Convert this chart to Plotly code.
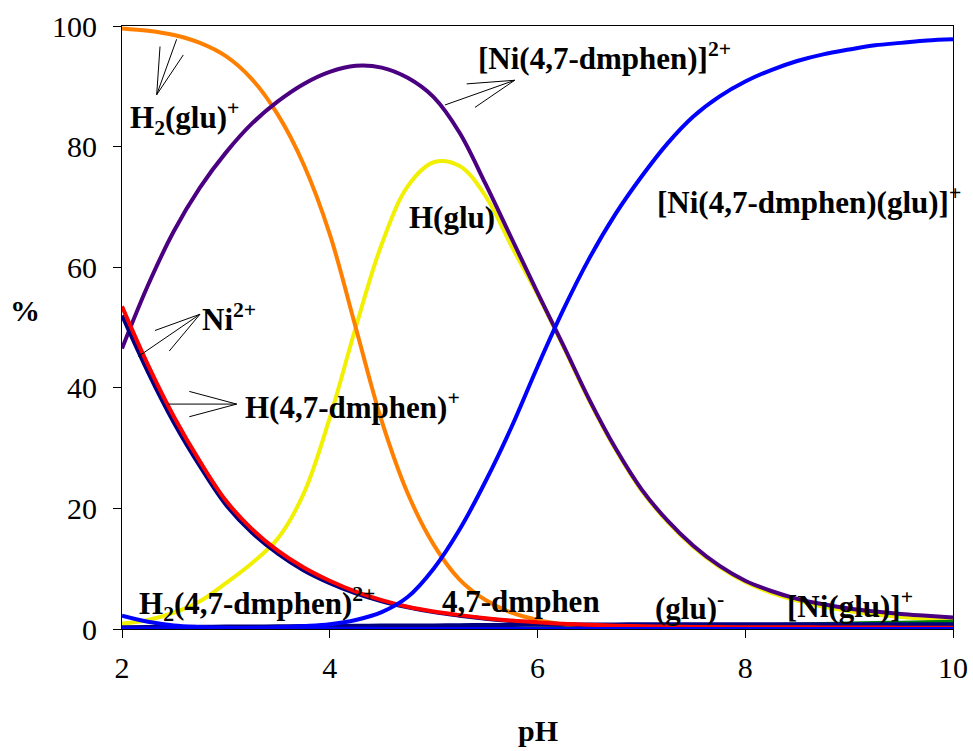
import plotly.graph_objects as go

# pH grid shared by all species
ph = [2.0, 2.25, 2.5, 2.75, 3.0, 3.25, 3.5, 3.75, 4.0, 4.25, 4.5, 4.75,
      5.0, 5.25, 5.5, 5.75, 6.0, 6.25, 6.5, 6.75, 7.0, 7.25, 7.5, 7.75,
      8.0, 8.25, 8.5, 8.75, 9.0, 9.25, 9.5, 9.75, 10.0]

# species distribution (%)
h2glu = [99.6, 99.2, 98.5, 97.2, 95.0, 91.2, 85.3, 77.0, 65.5, 50.0, 34.5, 22.5,
         14.0, 8.2, 4.8, 2.7, 1.5, 0.8, 0.45, 0.25, 0.15, 0.1, 0.05, 0.03,
         0.02, 0.0, 0.0, 0.0, 0.0, 0.0, 0.0, 0.0, 0.0]
ni_dmphen = [46.5, 57.0, 66.0, 73.2, 79.0, 83.8, 87.5, 90.4, 92.4, 93.4, 93.1, 91.4,
             88.2, 82.3, 73.8, 64.8, 55.8, 47.0, 38.0, 30.0, 23.2, 18.0, 13.8, 10.5,
             8.0, 6.3, 5.0, 4.1, 3.4, 2.9, 2.5, 2.2, 1.9]
hglu = [0.9, 1.5, 2.7, 4.6, 7.6, 10.9, 15.0, 22.5, 35.0, 50.0, 63.8, 73.4,
        77.4, 76.8, 71.8, 63.5, 55.5, 46.8, 37.8, 29.8, 23.0, 17.8, 13.6, 10.3,
        7.8, 6.0, 4.7, 3.7, 3.0, 2.4, 2.0, 1.7, 1.4]
ni_dmphen_glu = [0.1, 0.1, 0.1, 0.1, 0.15, 0.2, 0.3, 0.5, 0.8, 1.5, 2.8, 5.3,
                 10.0, 16.5, 24.5, 33.5, 43.5, 53.0, 61.5, 68.8, 75.0, 80.5, 85.0, 88.3,
                 90.8, 92.7, 94.2, 95.3, 96.1, 96.8, 97.2, 97.6, 97.8]
h_dmphen = [53.5, 43.8, 35.2, 27.8, 21.3, 16.6, 13.0, 10.2, 8.0, 6.2, 4.8, 3.7,
            2.9, 2.3, 1.8, 1.4, 1.1, 0.85, 0.7, 0.55, 0.45, 0.4, 0.35, 0.32,
            0.3, 0.3, 0.28, 0.26, 0.25, 0.24, 0.22, 0.21, 0.2]
ni_free = [52.0, 42.6, 34.2, 27.0, 20.6, 16.0, 12.5, 9.7, 7.6, 5.9, 4.6, 3.6,
           2.8, 2.2, 1.7, 1.3, 1.0, 0.8, 0.6, 0.45, 0.35, 0.28, 0.22, 0.18,
           0.15, 0.12, 0.1, 0.08, 0.07, 0.06, 0.05, 0.05, 0.04]
ni_glu = [0.3, 0.32, 0.34, 0.36, 0.4, 0.42, 0.45, 0.48, 0.5, 0.53, 0.56, 0.58,
          0.6, 0.63, 0.66, 0.68, 0.7, 0.72, 0.74, 0.76, 0.78, 0.79, 0.8, 0.8,
          0.8, 0.8, 0.8, 0.8, 0.8, 0.8, 0.8, 0.8, 0.8]
glu = [0.0, 0.0, 0.0, 0.0, 0.0, 0.0, 0.0, 0.0, 0.0, 0.0, 0.0, 0.0,
       0.0, 0.02, 0.04, 0.07, 0.1, 0.15, 0.2, 0.25, 0.3, 0.38, 0.45, 0.52,
       0.6, 0.68, 0.75, 0.82, 0.9, 0.98, 1.05, 1.12, 1.2]
h2_dmphen = [2.2, 1.2, 0.6, 0.35, 0.2, 0.15, 0.1, 0.07, 0.05, 0.03, 0.02, 0.01,
             0.0, 0.0, 0.0, 0.0, 0.0, 0.0, 0.0, 0.0, 0.0, 0.0, 0.0, 0.0,
             0.0, 0.0, 0.0, 0.0, 0.0, 0.0, 0.0, 0.0, 0.0]

x_ticks = [2, 4, 6, 8, 10]
y_ticks = [0, 20, 40, 60, 80, 100]

# drawing order: later traces sit on top
series = [
    (hglu, "#F0F000"),
    (glu, "#008000"),
    (ni_glu, "#000080"),
    (h2glu, "#FF8000"),
    (ni_dmphen, "#4B0082"),
    (ni_free, "#000080"),
    (h_dmphen, "#FF0000"),
    (h2_dmphen, "#0000FF"),
    (ni_dmphen_glu, "#0000FF"),
]

fig = go.Figure()
for vals, col in series:
    fig.add_trace(go.Scatter(x=ph, y=vals, mode="lines",
                             line=dict(color=col, width=4, shape="spline", smoothing=1.0),
                             showlegend=False, hoverinfo="skip"))

FONT = "Liberation Serif"
lab_font = dict(family=FONT, size=31, color="black")
title_font = dict(family=FONT, size=30, color="black")
tick_font = dict(family=FONT, size=30, color="black")

labels = [
    (2.058, 84.7, "<b>H<sub>2</sub>(glu)<sup>+</sup></b>"),
    (2.751, 51.7, "<b>Ni<sup>2+</sup></b>"),
    (3.165, 37.1, "<b>H(4,7-dmphen)<sup>+</sup></b>"),
    (5.408, 95.0, "<b>[Ni(4,7-dmphen)]<sup>2+</sup></b>"),
    (4.744, 68.2, "<b>H(glu)</b>"),
    (7.131, 71.1, "<b>[Ni(4,7-dmphen)(glu)]<sup>+</sup></b>"),
    (2.144, 4.1, "<b>H<sub>2</sub>(4,7-dmphen)<sup>2+</sup></b>"),
    (5.061, 4.5, "<b>4,7-dmphen</b>"),
    (7.112, 3.8, "<b>(glu)<sup>-</sup></b>"),
    (8.383, 4.0, "<b>[Ni(glu)]<sup>+</sup></b>"),
]
for lx, ly, txt in labels:
    fig.add_annotation(x=lx, y=ly, xref="x", yref="y", text=txt, showarrow=False,
                       xanchor="left", yanchor="middle", font=lab_font)

# open pointer strokes: (apex, [ends])
pointers = [
    ((2.334, 88.6), [(2.526, 97.8), (2.366, 96.6), (2.590, 95.2)]),
    ((2.751, 52.2), [(2.317, 49.5), (2.455, 46.1), (2.157, 45.2)]),
    ((3.104, 37.3), [(2.648, 39.4), (2.648, 35.2), (2.446, 37.3)]),
    ((5.780, 91.0), [(5.318, 90.4), (5.398, 86.5), (5.109, 86.9)]),
]
for (ax0, ay0), ends in pointers:
    for ex, ey in ends:
        fig.add_shape(type="line", x0=ax0, y0=ay0, x1=ex, y1=ey, xref="x", yref="y",
                      line=dict(color="black", width=1))

fig.add_annotation(x=0.5006, y=-0.169, xref="paper", yref="paper", text="<b>pH</b>",
                   showarrow=False, xanchor="center", yanchor="middle", font=title_font)
fig.add_annotation(x=-0.117, y=0.529, xref="paper", yref="paper", text="<b>%</b>",
                   showarrow=False, xanchor="center", yanchor="middle", font=title_font)

axis_common = dict(showgrid=False, zeroline=False, showline=True, linecolor="black",
                   linewidth=1, mirror=True, ticks="outside", ticklen=8, tickwidth=1,
                   tickcolor="black", tickfont=tick_font)
fig.update_xaxes(range=[2, 10], tickvals=x_ticks, ticklabelstandoff=4, **axis_common)
fig.update_yaxes(range=[0, 100], tickvals=y_ticks, ticklabelstandoff=10, **axis_common)

fig.update_layout(width=973, height=751,
                  margin=dict(l=122, r=20, t=26, b=122, autoexpand=False),
                  plot_bgcolor="white", paper_bgcolor="white")

fig.write_html("out.html")
